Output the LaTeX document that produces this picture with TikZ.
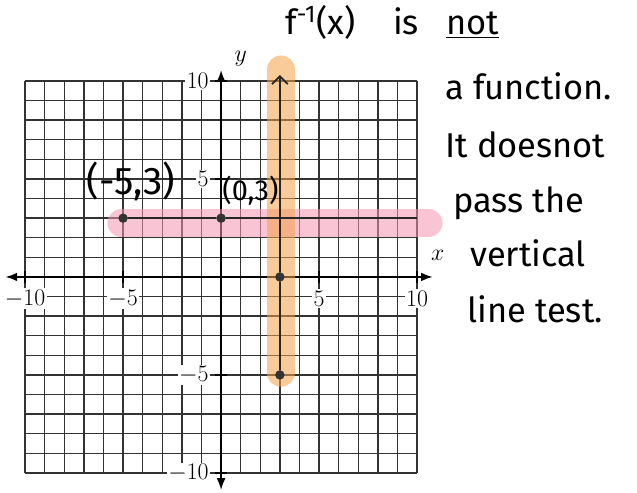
\documentclass[tikz,border=0pt]{standalone}
\usepackage{fontspec}
\newfontfamily\handfont{Fira Sans}
\usetikzlibrary{arrows.meta}

\begin{document}
\begin{tikzpicture}[x=0.5cm, y=0.5cm,
  ptdot/.style={circle, fill=black!80, inner sep=0pt, minimum size=2.4mm},
  numlabel/.style={fill=white, inner sep=1pt, font=\fontsize{16}{18}\selectfont},
  hand/.style={anchor=base west, inner sep=0pt, font=\handfont\fontsize{25}{30}\selectfont},
  marker/.style={line width=0.7cm, opacity=0.55}]
  \useasboundingbox (-11.28,-11.02) rectangle (21.22,14.13);

  % graph paper
  \draw[black!80, line width=1pt, step=0.5cm] (-10,-10) grid (10,10);

  % tick labels
  \foreach \k in {-10,-5,5,10} {
    \node[numlabel] (xlab\k) at (\k,-1.1) {$\k$};
    \node[numlabel, anchor=east] (ylab\k) at (-0.55,\k) {$\k$};
  }

  % axes
  \coordinate (xleft) at (-11,0);
  \coordinate (xright) at (10.8,0);
  \coordinate (ybottom) at (0,-10.87);
  \coordinate (ytop) at (0,10.56);
  \draw[line width=1.3pt, {Latex[length=3mm]}-{Latex[length=3mm]}] (xleft) -- (xright);
  \draw[line width=1.3pt, {Latex[length=3mm]}-{Latex[length=3mm]}] (ybottom) -- (ytop);
  \foreach \k in {-10,-5,5,10} {
    \draw[line width=1.2pt] (\k,-0.3) -- (\k,0.3);
    \draw[line width=1.2pt] (-0.3,\k) -- (0.3,\k);
  }
  \node[font=\fontsize{16}{18}\selectfont\itshape] (xname) at (11.05,1.1) {$x$};
  \node[font=\fontsize{16}{18}\selectfont\itshape] (yname) at (1,11.15) {$y$};

  % highlighter
  \draw[marker, color={rgb,255:red,244;green,150;blue,178}, line cap=round] (-5.1,2.75) -- (10.6,2.75);
  \draw[marker, color={rgb,255:red,242;green,160;blue,70}, line cap=round] (3.05,10.6) -- (3.05,-4.9);

  % points
  \node[ptdot] (pa) at (-5,3) {};
  \node[ptdot] (pb) at (0,3) {};
  \node[ptdot] (pc) at (3,0) {};
  \node[ptdot] (pd) at (3,-5) {};
  \coordinate (hend) at (10,3);
  \coordinate (vtop) at (3,10.3);

  \draw[black!85, line width=1.3pt] (pa) -- (pb) -- (hend);
  \draw[black!85, line width=1.3pt, -{Straight Barb[length=2mm, width=4mm]}] (pd) -- (pc) -- (vtop);

  % handwriting
  \node[font=\handfont\fontsize{28}{30}\selectfont] (lba) at (-4.6,4.85) {(-5,3)};
  \node[font=\handfont\fontsize{21}{24}\selectfont] (lbb) at (1.5,4.4) {(0,3)};

  \node[hand] (note1) at (3.27,12.35) {f\textsuperscript{-1}(x)\hspace{1.1em}is\hspace{0.8em}\underline{not}};
  \node[hand] (note2) at (11.43,9.03) {a function.};
  \node[hand] (note3) at (11.43,6.07) {It doesnot};
  \node[hand] (note4) at (11.84,3.27) {pass the};
  \node[hand] (note5) at (12.7,0.51) {vertical};
  \node[hand] (note6) at (12.55,-2.3) {line test.};
\end{tikzpicture}
\end{document}
